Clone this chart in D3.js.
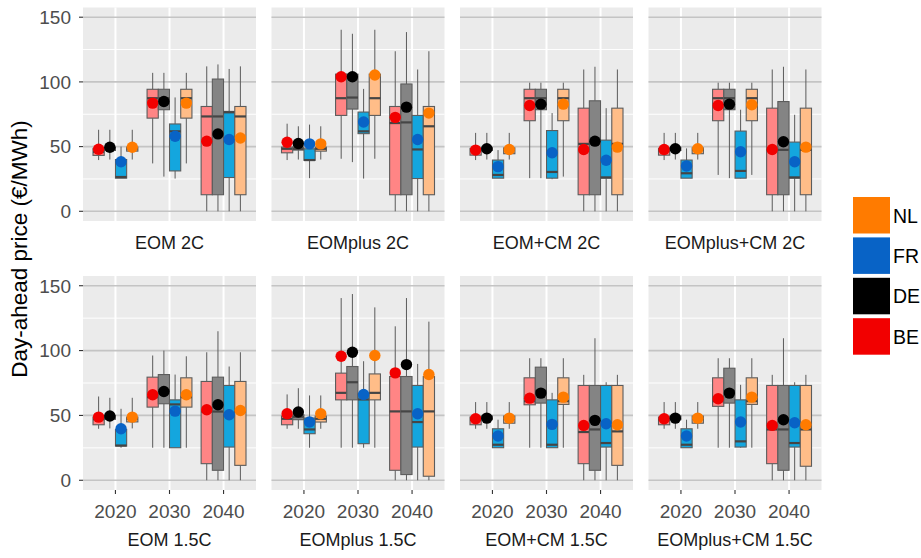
<!DOCTYPE html>
<html>
<head>
<meta charset="utf-8">
<script src="https://cdn.jsdelivr.net/npm/d3@7"></script>
<style>
  body { margin: 0; background: #fff; }
  text { font-family: "Liberation Sans", Arial, sans-serif; }
</style>
</head>
<body>
<svg id="chart" width="921" height="558"></svg>
<script>
// Scenarios (facets), years (x categories), countries (dodged groups)
const scenarios = ["EOM 2C", "EOMplus 2C", "EOM+CM 2C", "EOMplus+CM 2C",
                   "EOM 1.5C", "EOMplus 1.5C", "EOM+CM 1.5C", "EOMplus+CM 1.5C"];
const years = ["2020", "2030", "2040"];
const countries = ["BE", "DE", "FR", "NL"];
const yTicks = [0, 50, 100, 150];
const yMinorTicks = [25, 75, 125];

// Box statistics per scenario -> year -> country [BE, DE, FR, NL]
const whiskerLow = [
  [[39.6, 40, 25.6, 40], [37, 26.8, 25.3, 37], [0, 0, 0, 0]],
  [[39.6, 40, 25.6, 40], [40.6, 38, 25.3, 40.6], [0, 0, 0, 0]],
  [[39.6, 40, 25.6, 40], [25.6, 25.6, 24.8, 26.8], [0, 0, 0, 0]],
  [[39.6, 40, 25.6, 40], [28.1, 25.6, 25.3, 28.1], [0, 0, 0, 0]],
  [[39.7, 40, 25.1, 40], [25.1, 25.1, 25.1, 25.1], [0, 0, 0, 0]],
  [[39.7, 39.7, 25.1, 39.7], [25.1, 25.1, 25.1, 25.1], [0, 0, 0, 0]],
  [[39.7, 39.7, 25.1, 39.7], [25.1, 25.1, 25.1, 25.1], [0, 0, 0, 0]],
  [[39.7, 39.7, 25.1, 39.7], [25.1, 25.1, 25.1, 25.1], [0, 0, 0, 0]]
];
const quartile1 = [
  [[43.2, 47, 25.6, 46.5], [72, 78.5, 31.2, 72], [12.8, 12.8, 26.1, 12.8]],
  [[45.2, 47.3, 39.4, 46.5], [74.1, 79, 60, 74.1], [12.8, 12.8, 25.3, 12.8]],
  [[43.4, 47, 25.6, 44.5], [70, 78.5, 25.6, 70], [12.8, 12.8, 25.6, 12.8]],
  [[43.4, 47, 25.6, 44.5], [70, 78.5, 25.6, 70], [12.8, 12.8, 25.6, 12.8]],
  [[42.8, 47, 26.4, 45], [56.4, 59, 25.1, 56.4], [12.8, 7.7, 25.6, 11.5]],
  [[42.8, 46.7, 35.9, 44.9], [62, 62, 28.2, 62], [7.7, 4.4, 25.6, 3.1]],
  [[42.8, 46.7, 25.1, 44], [58.2, 59.5, 25.1, 58.5], [12.8, 7.7, 25.6, 11.5]],
  [[42.8, 46.7, 25.1, 44], [57, 59.5, 25.6, 58.5], [12.8, 7.7, 25.6, 10.8]]
];
const medians = [
  [[46, 48, 26.5, 48.5], [87.4, 87.4, 61.8, 87.4], [73.3, 73.3, 76.5, 73.3]],
  [[48.3, 48.3, 39.6, 48.3], [87.4, 87.9, 61.8, 87.4], [68.2, 68.7, 47.8, 65.7]],
  [[47, 48, 28.1, 47.5], [87.4, 87.4, 30.4, 87.4], [52.1, 52.1, 26.2, 52.1]],
  [[47, 48, 29.4, 47.5], [87.4, 87.4, 31.2, 87.4], [47.5, 47.5, 26.2, 47.5]],
  [[47, 48, 26.8, 47.5], [64.1, 69.2, 58.5, 64.1], [53, 53, 50, 53]],
  [[47.4, 49, 39.2, 47.4], [67.4, 75.6, 62.3, 67.4], [53.1, 53.1, 44.9, 53.1]],
  [[46.5, 48, 27.4, 47.5], [61, 69, 27.4, 61], [37.2, 39.2, 28.7, 37.7]],
  [[46.5, 48, 27.4, 47.5], [61, 69, 30, 61], [39.2, 39.2, 28.7, 39.2]]
];
const quartile3 = [
  [[48.6, 49.5, 40, 49.6], [94.3, 94.3, 67.5, 94.3], [81, 102.2, 77.2, 81]],
  [[49.6, 49.6, 48.3, 49.6], [106, 106, 76.7, 106], [81, 98.4, 74.1, 81]],
  [[48.6, 49.2, 39.6, 49], [94.3, 94.3, 62.4, 94.3], [79.7, 85.4, 55, 79.7]],
  [[48.6, 49.2, 39.6, 49], [94.3, 94.3, 62, 94.3], [79.7, 84.8, 53.5, 79.7]],
  [[48.7, 50, 39.2, 48.7], [79.5, 81.5, 62, 79], [76.2, 79.5, 73.1, 76.2]],
  [[49.5, 50.5, 48, 49.5], [82.6, 87.7, 66.7, 82], [80, 80, 73.1, 80]],
  [[48.7, 49.5, 39.7, 49.5], [79, 87.2, 62, 79], [73.1, 73.1, 73.1, 73.1]],
  [[48.7, 49.5, 39.7, 49.5], [79, 86.4, 62, 79], [73.1, 73.1, 73.1, 73.1]]
];
const whiskerHigh = [
  [[63, 63, 50, 63], [107, 107, 88, 107], [112, 113.5, 110, 112]],
  [[67.7, 65.7, 67, 65.7], [140.3, 137.2, 94.6, 140.3], [123.7, 138.5, 109.6, 123.7]],
  [[60.6, 60.6, 47.3, 60.6], [99.4, 99.4, 75.9, 99.4], [109.6, 111.7, 79.7, 109.6]],
  [[60.6, 60.6, 48.6, 60.6], [99.4, 99.4, 78.5, 99.4], [109.6, 111.7, 74.6, 109.6]],
  [[64.6, 63.6, 55.1, 63.6], [96.2, 100, 81.5, 95.6], [98.7, 114.9, 87.7, 98.7]],
  [[66.2, 71, 65.4, 65.4], [140.5, 143.6, 91.8, 133.3], [118.7, 140.5, 89.7, 122.3]],
  [[60.3, 60.3, 46.7, 60.3], [94.1, 94.1, 67.4, 94.1], [81.3, 109.5, 75.6, 81.3]],
  [[60.3, 60.3, 46.7, 60.3], [94.1, 94.1, 73.6, 94.1], [81.3, 109.5, 75.6, 81.3]]
];
const means = [
  [[48, 49.5, 38.3, 49.5], [83.6, 84.8, 58, 83.6], [54.2, 59.8, 55.5, 56.7]],
  [[53.4, 52.4, 52.1, 52.1], [104, 104, 69, 105.3], [72.6, 80.5, 55.5, 75.9]],
  [[47.3, 48.3, 34.5, 47.8], [81.8, 82.8, 45.2, 82.8], [47.8, 54.2, 39.4, 49.6]],
  [[47.8, 48.3, 35, 48.3], [81.8, 82.8, 46, 82.3], [47.8, 53.7, 38.3, 49.6]],
  [[48.7, 49.5, 39.7, 48.7], [65.9, 68.5, 53.3, 65.9], [54.4, 58.2, 50.5, 53.8]],
  [[51.3, 52.6, 44.9, 51.3], [95.6, 98.7, 66.2, 96.2], [82.8, 89.2, 51.3, 81.5]],
  [[47.4, 47.9, 34.1, 47.9], [63.3, 67.2, 43.1, 64.1], [42.3, 46.2, 43.6, 42.8]],
  [[47.4, 47.9, 34.1, 47.9], [62.8, 67.2, 44.9, 64.1], [42.3, 46.7, 44.4, 42.8]]
];

// Colours: solid for mean points / legend, light for box fills
const pointColor = { BE: "#f20000", DE: "#000000", FR: "#0863c6", NL: "#ff7b00" };
const boxColor   = { BE: "#ff8585", DE: "#848484", FR: "#14a6de", NL: "#ffbd88" };

const svg = d3.select("#chart");

const panelW = 173, panelGap = 15.5, panelLeft = 83;
const rows = [{ top: 7.5, bottom: 221 }, { top: 276, bottom: 490 }];
const dodgeWidth = 0.83;
const slot = dodgeWidth / countries.length;

scenarios.forEach((name, si) => {
  const col = si % 4, row = Math.floor(si / 4);
  const x0 = panelLeft + col * (panelW + panelGap);
  const r = rows[row];

  const x = d3.scaleLinear().domain([0.4, years.length + 0.6]).range([x0, x0 + panelW]);
  const y = d3.scaleLinear().domain([-7.5, 157.5]).range([r.bottom, r.top]);

  const g = svg.append("g");

  // panel background and grid
  g.append("rect").attr("x", x0).attr("y", r.top).attr("width", panelW)
    .attr("height", r.bottom - r.top).attr("fill", "#ebebeb");
  g.selectAll(".minor").data(yMinorTicks).join("line")
    .attr("x1", x0).attr("x2", x0 + panelW)
    .attr("y1", d => y(d)).attr("y2", d => y(d))
    .attr("stroke", "#fff").attr("stroke-width", 1);
  g.selectAll(".vgrid").data(years).join("line")
    .attr("x1", (d, i) => x(i + 1)).attr("x2", (d, i) => x(i + 1))
    .attr("y1", r.top).attr("y2", r.bottom)
    .attr("stroke", "#fff").attr("stroke-width", 2);
  g.selectAll(".major").data(yTicks).join("line")
    .attr("x1", x0).attr("x2", x0 + panelW)
    .attr("y1", d => y(d)).attr("y2", d => y(d))
    .attr("stroke", "#c4c4c4").attr("stroke-width", 1.6);

  // boxplots
  years.forEach((yr, yi) => {
    countries.forEach((c, ci) => {
      const cx = x(yi + 1 + (ci - 1.5) * slot);
      const half = (x(slot) - x(0)) / 2;
      const lo = whiskerLow[si][yi][ci], q1 = quartile1[si][yi][ci],
            md = medians[si][yi][ci], q3 = quartile3[si][yi][ci],
            hi = whiskerHigh[si][yi][ci];
      const bg = g.append("g");
      bg.append("line").attr("x1", cx).attr("x2", cx).attr("y1", y(hi)).attr("y2", y(q3))
        .attr("stroke", "#5a5a5a").attr("stroke-width", 1);
      bg.append("line").attr("x1", cx).attr("x2", cx).attr("y1", y(q1)).attr("y2", y(lo))
        .attr("stroke", "#5a5a5a").attr("stroke-width", 1);
      bg.append("rect").attr("x", cx - half).attr("width", half * 2)
        .attr("y", y(q3)).attr("height", Math.max(0.5, y(q1) - y(q3)))
        .attr("fill", boxColor[c]).attr("stroke", "#5c5c5c").attr("stroke-width", 1.1);
      bg.append("line").attr("x1", cx - half).attr("x2", cx + half)
        .attr("y1", y(md)).attr("y2", y(md))
        .attr("stroke", "#454545").attr("stroke-width", 2.2);
    });
  });

  // mean points
  years.forEach((yr, yi) => {
    countries.forEach((c, ci) => {
      g.append("circle")
        .attr("cx", x(yi + 1 + (ci - 1.5) * slot))
        .attr("cy", y(means[si][yi][ci]))
        .attr("r", 5.7)
        .attr("fill", pointColor[c]);
    });
  });

  // y axis on first column
  if (col === 0) {
    const ya = g.append("g");
    ya.selectAll("line").data(yTicks).join("line")
      .attr("x1", x0 - 4).attr("x2", x0).attr("y1", d => y(d)).attr("y2", d => y(d))
      .attr("stroke", "#333").attr("stroke-width", 1.1);
    ya.selectAll("text").data(yTicks).join("text")
      .attr("x", x0 - 12).attr("y", d => y(d)).attr("dy", "0.36em")
      .attr("text-anchor", "end").attr("font-size", 19).attr("fill", "#4d4d4d")
      .text(d => d);
  }

  // x axis on bottom row
  let stripY = r.bottom + 22;
  if (row === 1) {
    const xa = g.append("g");
    xa.selectAll("line").data(years).join("line")
      .attr("x1", (d, i) => x(i + 1)).attr("x2", (d, i) => x(i + 1))
      .attr("y1", r.bottom).attr("y2", r.bottom + 4)
      .attr("stroke", "#333").attr("stroke-width", 1.1);
    xa.selectAll("text").data(years).join("text")
      .attr("x", (d, i) => x(i + 1)).attr("y", r.bottom + 21).attr("dy", "0.36em")
      .attr("text-anchor", "middle").attr("font-size", 19).attr("fill", "#4d4d4d")
      .text(d => d);
    stripY = r.bottom + 50;
  }

  // facet strip label
  g.append("text").attr("x", x0 + panelW / 2).attr("y", stripY).attr("dy", "0.36em")
    .attr("text-anchor", "middle").attr("font-size", 18).attr("fill", "#1a1a1a")
    .text(name);
});

// y axis title
svg.append("text")
  .attr("transform", "translate(19,249) rotate(-90)")
  .attr("text-anchor", "middle").attr("dy", "0.36em")
  .attr("font-size", 22.5).attr("fill", "#000")
  .text("Day-ahead price (€/MWh)");

// legend (reverse country order, top to bottom)
const legendItems = countries.slice().reverse();
const lg = svg.append("g");
legendItems.forEach((c, i) => {
  const ly = 197 + i * 40.4;
  lg.append("rect").attr("x", 853).attr("y", ly).attr("width", 37).attr("height", 36.5)
    .attr("fill", pointColor[c]);
  lg.append("text").attr("x", 893).attr("y", ly + 18.5).attr("dy", "0.36em")
    .attr("font-size", 19.5).attr("fill", "#000").text(c);
});
</script>
</body>
</html>
